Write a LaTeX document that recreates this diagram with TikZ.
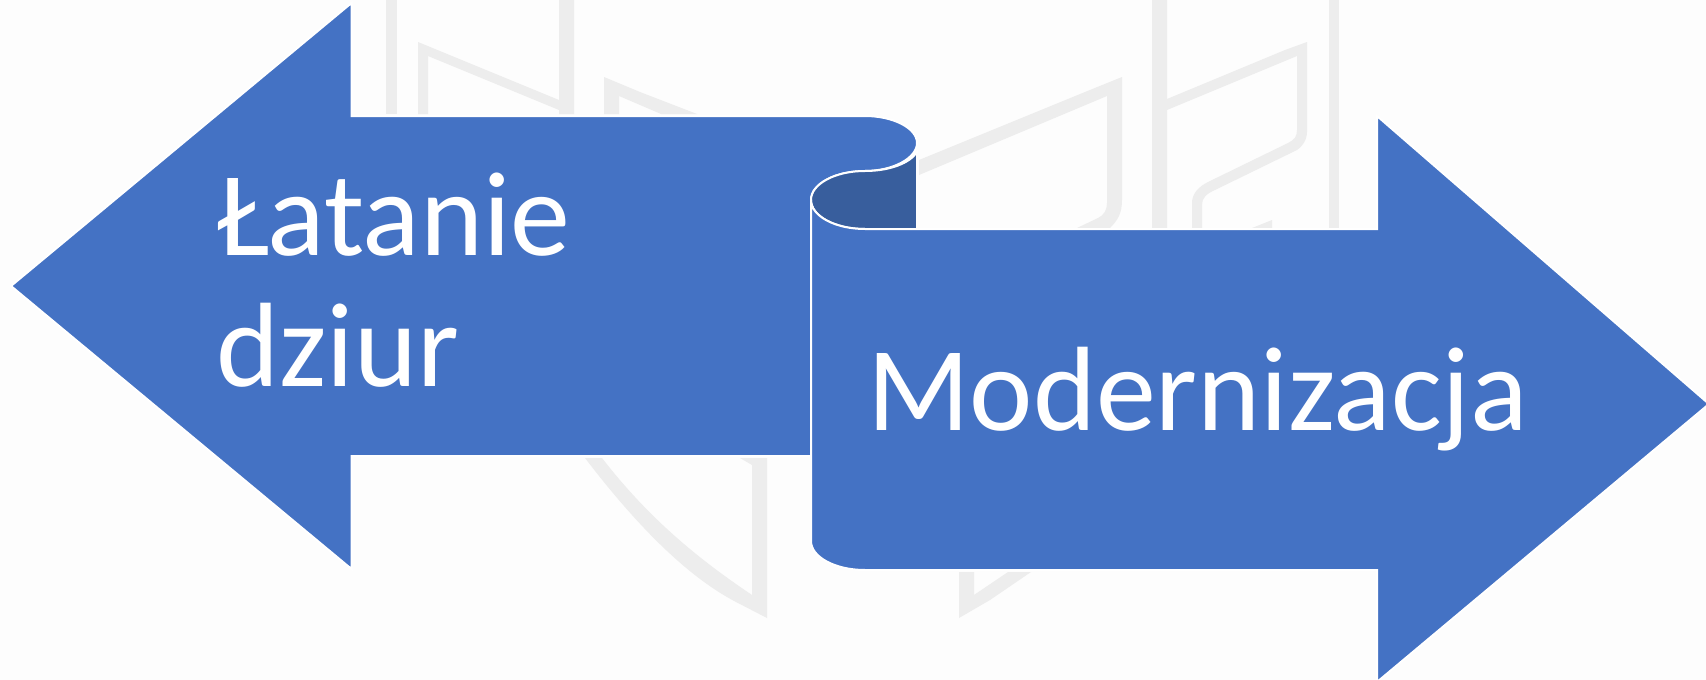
\documentclass[tikz,border=0pt]{standalone}
\usepackage{fontspec}
\setmainfont{Carlito}
\definecolor{blueA}{HTML}{4472C4}
\definecolor{blueD}{HTML}{385E9D}
\definecolor{wm}{HTML}{EDEDED}
\definecolor{bg}{HTML}{FDFDFD}
\tikzset{
  mark shape/.style={fill=wm,draw=none},
  ribbon/.style={fill=blueA,draw=white,line width=2pt,line join=miter},
  label text/.style={text=white,font=\fontsize{120}{131}\selectfont,inner sep=0pt,align=left}
}
\begin{document}
\begin{tikzpicture}[x=1pt,y=-1pt]
\useasboundingbox (0,0) rectangle (1706,680);
\fill[bg] (0,0) rectangle (1706,680);
% watermark
\fill[mark shape] (386,0) rectangle (397,114);
\fill[mark shape] (418,42) -- (559,100) -- (559,0) -- (574,0) -- (574,114) -- (559,114) -- (559,110) -- (428,56) -- (428,114) -- (418,114) -- cycle;
\fill[mark shape] (604,77) -- (640,92) -- (697,114) -- (661,114) -- (619,96) -- (619,114) -- (604,114) -- cycle;
\fill[mark shape] (919,160) -- (1085,92) -- (1122,77) -- (1122,200) .. controls (1122,213) and (1118,220) .. (1110,228) -- (1077,228) -- (1098,218) .. controls (1104,215) and (1107,210) .. (1107,203) -- (1107,96) -- (919,175) -- cycle;
\fill[mark shape] (1152,0) -- (1167,0) -- (1167,99) -- (1285,50) -- (1307,42) -- (1307,132) .. controls (1307,140) and (1302,147) .. (1297,150) -- (1215,190) .. controls (1206,194) and (1202,198) .. (1202,205) -- (1202,228) -- (1192,228) -- (1192,203) .. controls (1192,194) and (1198,187) .. (1208,182) -- (1288,143) .. controls (1294,140) and (1297,137) .. (1297,130) -- (1297,56) -- (1167,110) -- (1167,228) -- (1152,228) -- cycle;
\fill[mark shape] (1272,220) -- (1272,228) -- (1252,228) -- cycle;
\fill[mark shape] (1329,0) rectangle (1339,228);
\fill[mark shape] (585,458) .. controls (640,530) and (690,578) .. (736,602) -- (767,618) -- (767,458) -- (740,458) -- (752,465) -- (752,595) .. controls (700,560) and (650,520) .. (602,458) -- cycle;
\fill[mark shape] (959,572) -- (974,572) -- (974,595) -- (1008,572) -- (1031,572) -- (990,600) -- (959,618) -- cycle;
% left arrow
\path[ribbon] (11,286) -- (351.5,3) -- (351.5,116) -- (865,116)
  .. controls (893,116) and (917,128) .. (917,143)
  .. controls (917,158) and (893,171) .. (865,171)
  .. controls (835,171) and (811,184) .. (811,200)
  -- (811,456) -- (351.5,456) -- (351.5,569) -- cycle;
% fold
\path[fill=blueD,draw=white,line width=2pt] (917,152) -- (917,229) -- (865,229)
  .. controls (835,229) and (811,216) .. (811,200)
  .. controls (811,184) and (835,171) .. (865,171)
  .. controls (890,171) and (910,163) .. (917,152) -- cycle;
\path[draw=bg,line width=2pt] (917,153) -- (917,229);
% right arrow
\path[ribbon] (811,200) .. controls (811,216) and (835,229) .. (865,229)
  -- (1377,229) -- (1377,116) -- (1709,404) -- (1377,682) -- (1377,570) -- (865,570)
  .. controls (835,570) and (811,557) .. (811,541) -- cycle;
% labels
\node[label text,anchor=base west] (lata) at (216,386) {Łatanie\\dziur};
\node[label text,anchor=base west] (mod) at (867,430) {Modernizacja};
\end{tikzpicture}
\end{document}
